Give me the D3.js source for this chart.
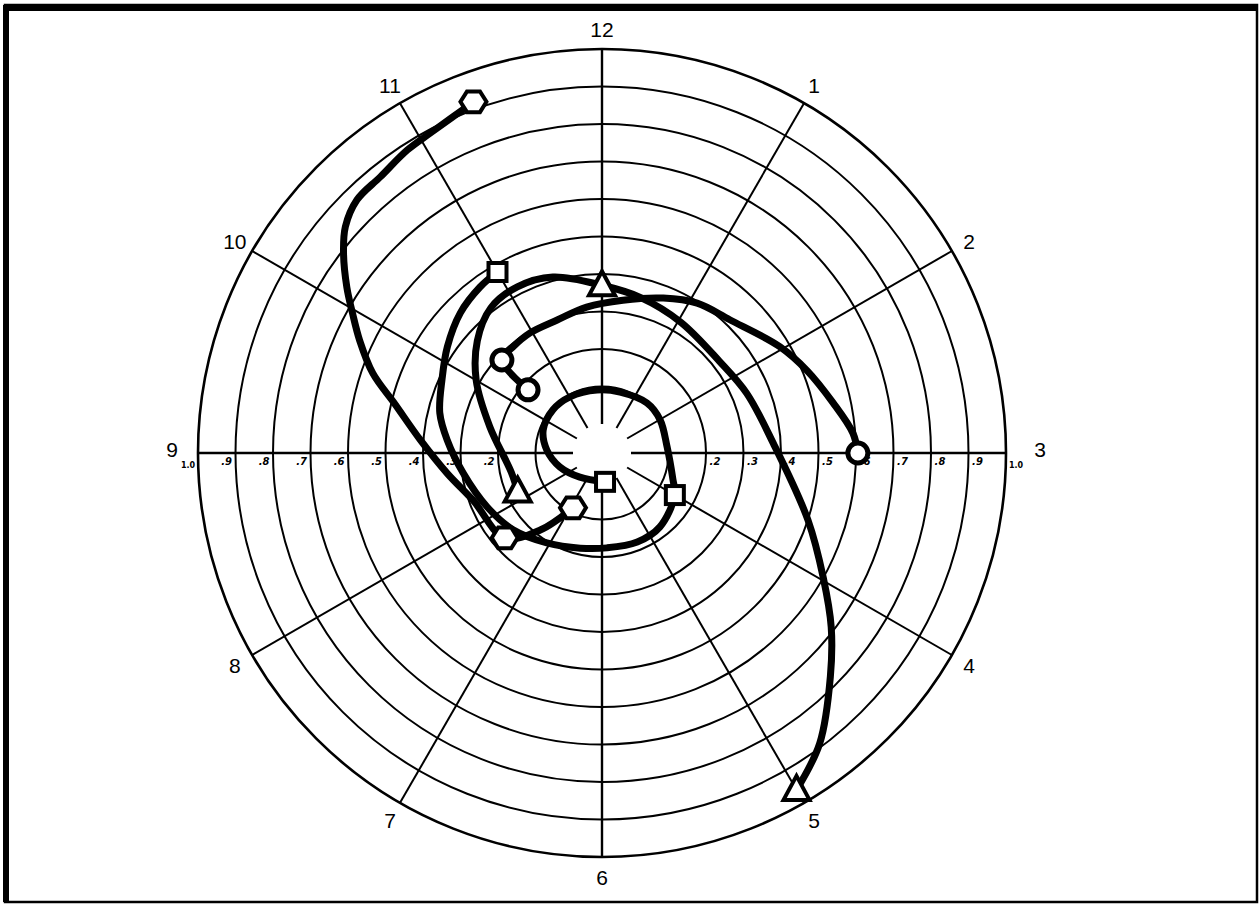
<!DOCTYPE html>
<html>
<head>
<meta charset="utf-8">
<script src="https://cdn.jsdelivr.net/npm/d3@7"></script>
<style>
  body { margin: 0; background: #fff; }
  svg { display: block; }
</style>
</head>
<body>
<div id="chart"></div>
<script>
// clock positions (hours) and ring values
const hourLabels = ["12", "1", "2", "3", "4", "5", "6", "7", "8", "9", "10", "11"];
const ringValues = [0.1, 0.2, 0.3, 0.4, 0.5, 0.6, 0.7, 0.8, 0.9, 1.0];
const tickValues = [0.2, 0.3, 0.4, 0.5, 0.6, 0.7, 0.8, 0.9];

// series: hour position and radial value
const hexHour = [11.33, 11.2, 11.06, 10.91, 10.71, 10.53, 10.38, 10.26, 10.1, 9.98, 9.83, 9.64, 9.44, 9.14, 8.75, 8.33, 7.63, 7.29, 6.93];
const hexVal  = [0.92, 0.903, 0.891, 0.883, 0.867, 0.862, 0.835, 0.795, 0.734, 0.687, 0.635, 0.57, 0.489, 0.409, 0.339, 0.289, 0.267, 0.186, 0.088];
const hexMarks = [0, 16, 18];

const circHour = [3.0, 2.85, 2.59, 2.27, 1.97, 1.46, 1.08, 0.72, 0.26, 11.8, 11.38, 10.97, 10.67, 10.43, 10.35];
const circVal  = [0.605, 0.594, 0.553, 0.512, 0.475, 0.415, 0.396, 0.367, 0.334, 0.314, 0.297, 0.296, 0.292, 0.287, 0.182];
const circMarks = [0, 13, 14];

const triHour = [8.18, 8.6, 9.44, 10.0, 10.4, 10.75, 11.1, 11.48, 0.0, 0.46, 1.03, 1.73, 2.25, 2.89, 3.6, 3.98, 4.24, 4.48, 4.77, 5.0];
const triVal  = [0.17, 0.17, 0.23, 0.31, 0.37, 0.41, 0.42, 0.41, 0.37, 0.35, 0.33, 0.32, 0.34, 0.38, 0.5, 0.6, 0.69, 0.775, 0.89, 0.96];
const triMarks = [0, 8, 19];

const sqHour = [11.0, 10.79, 10.49, 10.15, 9.82, 9.46, 9.16, 8.73, 8.16, 7.64, 7.05, 6.43, 5.9, 5.28, 4.73, 4.0, 3.69, 2.82, 2.01, 1.4, 0.55, 11.85, 11.01, 10.38, 9.71, 9.1, 8.39, 7.42, 5.8];
const sqVal  = [0.48, 0.472, 0.454, 0.423, 0.392, 0.368, 0.337, 0.297, 0.261, 0.236, 0.204, 0.183, 0.176, 0.178, 0.173, 0.147, 0.125, 0.097, 0.101, 0.102, 0.092, 0.091, 0.095, 0.097, 0.091, 0.07, 0.041, 0.01, 0.0];
const sqMarks = [0, 15, 28];

const width = 1260, height = 905;
const cx = 602, cy = 453;

const svg = d3.select("#chart").append("svg")
    .attr("width", width)
    .attr("height", height);

// frame
svg.append("rect")
    .attr("x", 5).attr("y", 5)
    .attr("width", 1252).attr("height", 897)
    .attr("fill", "none").attr("stroke", "#000").attr("stroke-width", 2.5);
svg.append("line").attr("x1", 3).attr("x2", 1258).attr("y1", 8).attr("y2", 8)
    .attr("stroke", "#000").attr("stroke-width", 6);
svg.append("line").attr("x1", 6).attr("x2", 6).attr("y1", 5).attr("y2", 902)
    .attr("stroke", "#000").attr("stroke-width", 6);

const r = d3.scaleLinear().domain([0, 1]).range([29, 404]);
const angle = h => h * Math.PI / 6;

const g = svg.append("g").attr("transform", `translate(${cx},${cy})`);

// rings
g.selectAll("circle.ring")
  .data(ringValues)
  .enter().append("circle")
    .attr("class", "ring")
    .attr("r", d => r(d))
    .attr("fill", "none")
    .attr("stroke", "#000")
    .attr("stroke-width", d => d === 1 ? 2.6 : 2);

// spokes
g.selectAll("line.spoke")
  .data(d3.range(12))
  .enter().append("line")
    .attr("class", "spoke")
    .attr("x1", d => d3.pointRadial(angle(d), r(0))[0])
    .attr("y1", d => d3.pointRadial(angle(d), r(0))[1])
    .attr("x2", d => d3.pointRadial(angle(d), r(1))[0])
    .attr("y2", d => d3.pointRadial(angle(d), r(1))[1])
    .attr("stroke", "#000")
    .attr("stroke-width", d => d % 3 === 0 ? 2.4 : 2);

// tick labels along the 3-9 axis
const tickFmt = d => d3.format(".1f")(d).replace(/^0/, "");
[1, -1].forEach(side => {
  g.selectAll(null)
    .data(tickValues)
    .enter().append("text")
      .attr("x", d => side * (r(d) + 9))
      .attr("y", 12)
      .attr("text-anchor", "middle")
      .style("font-family", "DejaVu Sans")
      .style("font-size", "10px")
      .style("font-weight", "bold")
      .style("font-style", "italic")
      .text(tickFmt);
  g.append("text")
      .attr("x", side * (r(1) + 10))
      .attr("y", 15)
      .attr("text-anchor", "middle")
      .style("font-family", "DejaVu Sans")
      .style("font-size", "8px")
      .style("font-weight", "bold")
      .text("1.0");
});

// hour labels
const hourRadius = i => i === 3 ? 438 : (i === 9 ? 430 : 424);
g.selectAll("text.hour")
  .data(hourLabels)
  .enter().append("text")
    .attr("class", "hour")
    .attr("x", (d, i) => d3.pointRadial(angle(i), hourRadius(i))[0])
    .attr("y", (d, i) => d3.pointRadial(angle(i), hourRadius(i))[1] - (i === 9 || i === 3 ? 4 : 0))
    .attr("text-anchor", "middle")
    .attr("dominant-baseline", "central")
    .style("font-family", "Liberation Sans, Arial, sans-serif")
    .style("font-size", "21px")
    .text(d => d);

const radial = d3.lineRadial()
    .angle(d => angle(d[0]))
    .radius(d => r(d[1]))
    .curve(d3.curveCatmullRom.alpha(0.5));

const series = [
  {hours: hexHour, vals: hexVal, marks: hexMarks, shape: "hex"},
  {hours: circHour, vals: circVal, marks: circMarks, shape: "circle"},
  {hours: triHour, vals: triVal, marks: triMarks, shape: "tri"},
  {hours: sqHour, vals: sqVal, marks: sqMarks, shape: "square"}
];

series.forEach(s => {
  const pts = s.hours.map((h, i) => [h, s.vals[i]]);
  g.append("path")
      .attr("d", radial(pts))
      .attr("fill", "none")
      .attr("stroke", "#000")
      .attr("stroke-width", 7)
      .attr("stroke-linejoin", "round")
      .attr("stroke-linecap", "round");
});

const hexPath = d3.range(6).map(k => {
  const a = k * Math.PI / 3;
  return [13 * Math.cos(a), 12 * Math.sin(a)];
});

series.forEach(s => {
  s.marks.forEach(i => {
    const [x, y] = d3.pointRadial(angle(s.hours[i]), r(s.vals[i]));
    let m;
    if (s.shape === "circle") {
      m = g.append("circle").attr("cx", x).attr("cy", y).attr("r", 10);
    } else if (s.shape === "square") {
      m = g.append("rect").attr("x", x - 9).attr("y", y - 9).attr("width", 18).attr("height", 18);
    } else if (s.shape === "tri") {
      m = g.append("path")
          .attr("d", `M${x},${y - 14}L${x + 13},${y + 10}L${x - 13},${y + 10}Z`);
    } else {
      m = g.append("path")
          .attr("d", "M" + hexPath.map(p => [x + p[0], y + p[1]].join(",")).join("L") + "Z");
    }
    m.attr("fill", "#fff")
     .attr("stroke", "#000")
     .attr("stroke-width", s.shape === "circle" ? 5 : 4)
     .attr("stroke-linejoin", "miter");
  });
});
</script>
</body>
</html>
